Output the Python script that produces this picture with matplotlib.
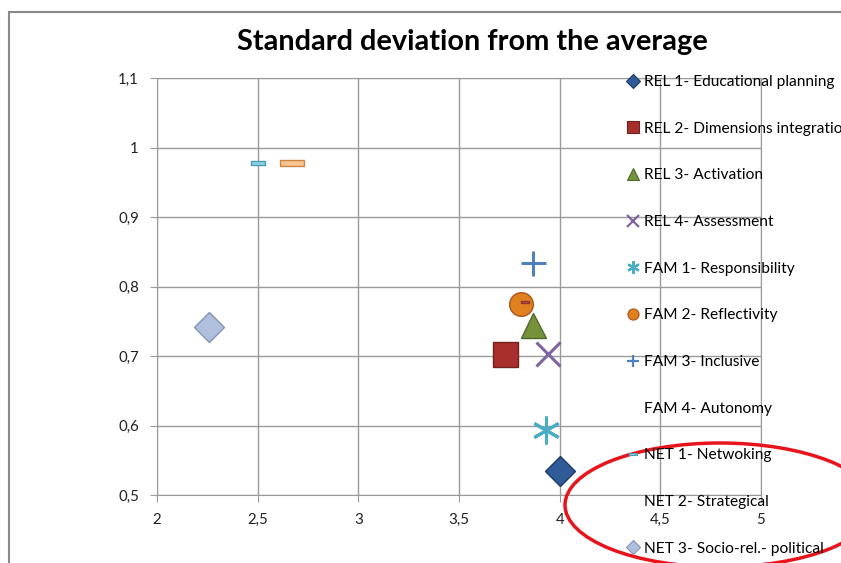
import numpy as np
import matplotlib.pyplot as plt
from matplotlib.lines import Line2D
from matplotlib.patches import Ellipse, Rectangle
from matplotlib.ticker import FuncFormatter, MultipleLocator

plt.rcParams['font.family'] = ['Lato', 'DejaVu Sans']

# series: label, x (average), y (standard deviation)
labels = ["REL 1- Educational planning", "REL 2- Dimensions integration",
          "REL 3- Activation", "REL 4- Assessment", "FAM 1- Responsibility",
          "FAM 2- Reflectivity", "FAM 3- Inclusive", "FAM 4- Autonomy",
          "NET 1- Netwoking", "NET 2- Strategical", "NET 3- Socio-rel.- political"]
x_vals = [4.00, 3.73, 3.87, 3.94, 3.93, 3.81, 3.87, 3.83, 2.50, 2.67, 2.26]
y_vals = [0.535, 0.703, 0.745, 0.703, 0.594, 0.775, 0.834, 0.778, 0.978, 0.978, 0.742]

# marker style per series: (marker, size, face, edge, show in legend)
styles = [
    ('D', 15, '#2f5c99', '#1d3b66', True),
    ('s', 18, '#a8302c', '#74201d', True),
    ('^', 18, '#76933c', '#50662a', True),
    ('x', 17, '#8064a2', '#8064a2', True),
    ('*', 0, '#4bacc6', '#4bacc6', True),
    ('o', 17, '#e1801f', '#a8561a', True),
    ('+', 18, '#4f81bd', '#4f81bd', True),
    ('s', 0, '#c0504d', '#8f3431', False),
    ('s', 0, '#8fd3e6', '#4a9bb4', True),
    ('s', 0, '#fbc48f', '#c98548', False),
    ('D', 15, '#b0bfdc', '#8393b5', True),
]

fig = plt.figure(figsize=(8.41, 5.63), dpi=100)
ax = fig.add_axes([157 / 841, 1 - 495 / 563, (761 - 157) / 841, (495 - 78) / 563])

handles = []
for i, (lab, xv, yv) in enumerate(zip(labels, x_vals, y_vals)):
    m, ms, fc, ec, show = styles[i]
    if i == 4:
        # asterisk made of lines
        ax.plot([xv], [yv], marker=(6, 2, 0), ms=20, mec=fc, mew=2.2, ls='none', zorder=3)
        h = Line2D([], [], marker=(6, 2, 0), ms=9, mec=fc, mew=1.6, ls='none')
    elif i in (7, 8, 9):
        w = 14 if i == 8 else (24 if i == 9 else 8)
        ax.plot([xv], [yv], marker=[(-1, -0.28), (1, -0.28), (1, 0.28), (-1, 0.28), (-1, -0.28)],
                ms=w * 0.72, mfc=fc, mec=ec, mew=1, ls='none', zorder=4)
        if show:
            h = Line2D([], [], marker=[(-1, -0.35), (1, -0.35), (1, 0.35), (-1, 0.35), (-1, -0.35)],
                       ms=6, mfc=fc, mec=ec, mew=0.8, ls='none')
        else:
            h = Line2D([], [], marker='none', ls='none')
    elif m in ('x', '+'):
        ax.plot([xv], [yv], marker=m, ms=ms, mec=fc, mew=2.2, ls='none', zorder=3)
        h = Line2D([], [], marker=m, ms=8, mec=fc, mew=1.6, ls='none')
    else:
        ax.plot([xv], [yv], marker=m, ms=ms, mfc=fc, mec=ec, mew=1, ls='none', zorder=3)
        h = Line2D([], [], marker=m, ms=8 if m != 'D' else 7, mfc=fc, mec=ec, mew=0.8, ls='none')
    handles.append(h)

ax.set_xlim(2, 5)
ax.set_ylim(0.5, 1.1)
ax.xaxis.set_major_locator(MultipleLocator(0.5))
ax.yaxis.set_major_locator(MultipleLocator(0.1))
fmt = FuncFormatter(lambda v, p: ('%g' % round(v, 2)).replace('.', ','))
ax.xaxis.set_major_formatter(fmt)
ax.yaxis.set_major_formatter(fmt)
ax.grid(True, color='#9a9a9a', lw=1)
ax.set_axisbelow(True)
for s in ax.spines.values():
    s.set_color('#9a9a9a')
ax.tick_params(direction='out', length=5, color='#9a9a9a', labelsize=10.8,
               labelcolor='#222222', pad=8)

fig.suptitle("Standard deviation from the average", x=472 / 841, y=1 - 42 / 563,
             va='center', fontsize=20.8, fontweight='bold')

fig.legend(handles, labels, loc='upper left', bbox_to_anchor=(627 / 841, 1 - 75 / 563),
           frameon=False, fontsize=11.2, labelspacing=2.1, handlelength=0.8,
           handletextpad=0.3, borderaxespad=0, borderpad=0)

# outer chart border
fig.add_artist(Rectangle((9 / 841, -0.1), 1.2, 1.1 - 12 / 563, transform=fig.transFigure,
                         fill=False, ec='#8a8a8a', lw=1.5))
# red ellipse annotation
fig.add_artist(Ellipse((720 / 841, 1 - 505 / 563), 310 / 841, 124 / 563,
                       transform=fig.transFigure, fill=False, ec='#e8141b', lw=2.5))

fig.savefig('out.png', dpi=100)
